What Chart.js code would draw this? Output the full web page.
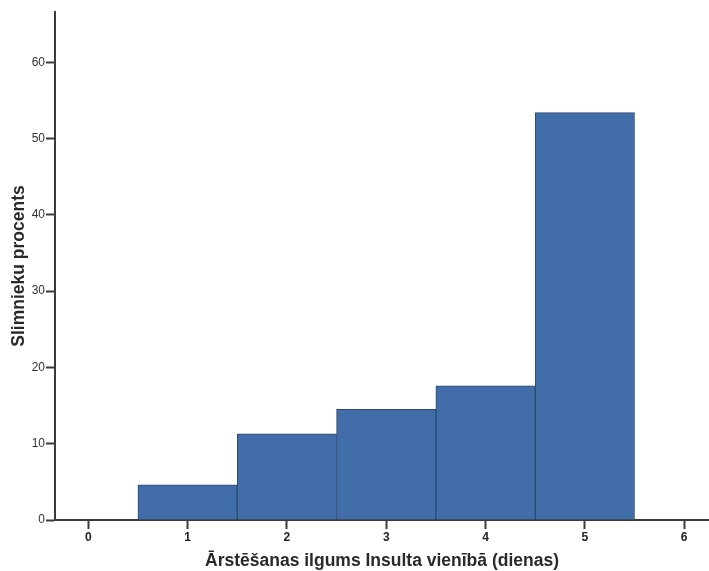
<!DOCTYPE html>
<html lang="lv">
<head>
  <meta charset="UTF-8" />
  <title>Ārstēšanas ilgums Insulta vienībā</title>
  <script src="https://cdn.jsdelivr.net/npm/chart.js"></script>
  <style>
    body {
      margin: 0;
      background: white;
    }
    .chart-box {
      width: 709px;
      height: 571px;
    }
  </style>
</head>
<body>
  <div class="chart-box">
    <canvas id="histChart"></canvas>
  </div>

  <script>
    // data
    const days = [1, 2, 3, 4, 5];
    const percents = [4.6, 11.3, 14.5, 17.6, 53.4];
    const xTicks = [0, 1, 2, 3, 4, 5, 6];
    const yTicks = [0, 10, 20, 30, 40, 50, 60];

    const axisColor = '#3a3a3a';

    const ctx = document.getElementById('histChart').getContext('2d');
    new Chart(ctx, {
      type: 'bar',
      data: {
        datasets: [{
          label: 'Slimnieku procents',
          data: days.map((d, i) => ({ x: d, y: percents[i] })),
          backgroundColor: '#416da8',
          borderColor: '#2c4a70',
          borderWidth: 1,
          barPercentage: 1,
          categoryPercentage: 1
        }]
      },
      options: {
        responsive: true,
        maintainAspectRatio: false,
        animation: false,
        layout: { padding: { top: 12, right: 0, left: 0, bottom: 0 } },
        plugins: {
          legend: { display: false },
          tooltip: { enabled: false }
        },
        scales: {
          x: {
            type: 'linear',
            offset: false,
            min: -0.335,
            max: 6.25,
            afterBuildTicks: axis => { axis.ticks = xTicks.map(v => ({ value: v })); },
            afterFit: axis => { axis.height = 51; },
            grid: { offset: false, drawOnChartArea: false, drawTicks: true, tickLength: 9, tickColor: axisColor, tickWidth: 2 },
            border: { color: axisColor, width: 2 },
            ticks: {
              color: '#222',
              padding: 1,
              font: { family: 'Liberation Sans, Arial, sans-serif', size: 12, weight: 'bold' }
            },
            title: {
              display: true,
              text: 'Ārstēšanas ilgums Insulta vienībā (dienas)',
              color: '#2a2a2a',
              padding: { top: 4, bottom: -1 },
              font: { family: 'Liberation Sans, Arial, sans-serif', size: 17.5, weight: 'bold' }
            }
          },
          y: {
            min: 0,
            max: 66.6,
            afterBuildTicks: axis => { axis.ticks = yTicks.map(v => ({ value: v })); },
            afterFit: axis => { axis.width = 55; },
            grid: { drawOnChartArea: false, drawTicks: true, tickLength: 9, tickColor: axisColor, tickWidth: 2 },
            border: { color: axisColor, width: 2 },
            ticks: {
              color: '#333',
              padding: 1,
              font: { family: 'Liberation Sans, Arial, sans-serif', size: 12 }
            },
            title: {
              display: true,
              text: 'Slimnieku procents',
              color: '#2a2a2a',
              padding: { top: 9, bottom: 4 },
              font: { family: 'Liberation Sans, Arial, sans-serif', size: 17.5, weight: 'bold' }
            }
          }
        }
      }
    });
  </script>
</body>
</html>
